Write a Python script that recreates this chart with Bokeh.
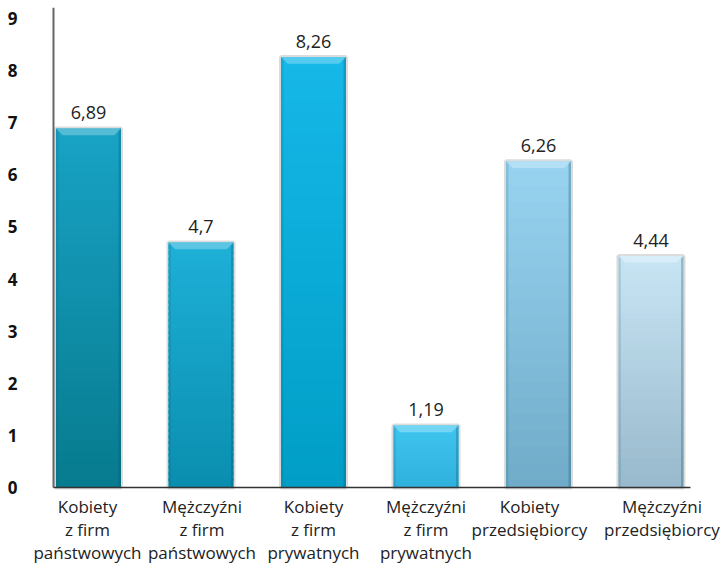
from bokeh.plotting import figure
from bokeh.models import Range1d, FixedTicker, ColumnDataSource
from bokeh.core.properties import value
from bokeh.embed import file_html
from bokeh.resources import INLINE

# ---- data ----
categories = [
    "Kobiety\nz firm\npaństwowych",
    "Mężczyźni\nz firm\npaństwowych",
    "Kobiety\nz firm\nprywatnych",
    "Mężczyźni\nz firm\nprywatnych",
    "Kobiety\nprzedsiębiorcy",
    "Mężczyźni\nprzedsiębiorcy",
]
values = [6.89, 4.7, 8.26, 1.19, 6.26, 4.44]
value_labels = ["6,89", "4,7", "8,26", "1,19", "6,26", "4,44"]
y_ticks = [0, 1, 2, 3, 4, 5, 6, 7, 8, 9]
y_tick_labels = ["0", "1", "2", "3", "4", "5", "6", "7", "8", "9"]

# ---- styles ----
top_colors = ["#18a3c5", "#1eb0d8", "#16b8e8", "#40c5ef", "#98d4f1", "#c8e5f4"]
bottom_colors = ["#077a8e", "#0a8eae", "#009ec6", "#2fb1dd", "#70abc8", "#98b9cc"]
label_x_shift = [-1, 1, 0, 0, -9, 11]
BAR_W = 0.578
N_BANDS = 40
FONT = "Open Sans"
X0, X1 = -0.5332, 5.6535
AXIS_X, AXIS_END = -0.311, 5.351
Y_TOP = 9.21


def hex2rgb(h):
    h = h.lstrip("#")
    return tuple(int(h[i:i + 2], 16) for i in (0, 2, 4))


def mix(c1, c2, t):
    a, b = hex2rgb(c1), hex2rgb(c2)
    return "#%02x%02x%02x" % tuple(round(a[k] + (b[k] - a[k]) * t) for k in range(3))


xs = list(range(len(values)))

p = figure(
    width=724, height=564,
    x_range=Range1d(X0, X1), y_range=Range1d(-1.478, Y_TOP),
    output_backend="svg", toolbar_location=None,
    min_border_left=28, min_border_right=0, min_border_top=7, min_border_bottom=0,
)
p.outline_line_color = None
p.xgrid.visible = False
p.ygrid.visible = False
p.xaxis.visible = False
p.background_fill_color = "white"
p.border_fill_color = "white"

# shadow around bars
p.quad(left=[x - BAR_W / 2 for x in xs], right=[x + BAR_W / 2 for x in xs],
       bottom=[0] * len(xs), top=values, fill_color=None,
       line_color="#8a8a8a", line_alpha=0.3, line_width=4)

# gradient bands (each overlaps the next one to hide seams)
band = dict(left=[], right=[], bottom=[], top=[], color=[])
for i, v in enumerate(values):
    for k in range(N_BANDS):
        band["left"].append(xs[i] - BAR_W / 2)
        band["right"].append(xs[i] + BAR_W / 2)
        band["bottom"].append(v * k / N_BANDS)
        band["top"].append(v * min(k + 1.6, N_BANDS) / N_BANDS)
        band["color"].append(mix(bottom_colors[i], top_colors[i], (k + 0.5) / N_BANDS))
p.quad(left="left", right="right", bottom="bottom", top="top",
       fill_color="color", line_color=None, source=ColumnDataSource(band))

# darker side edges
edge_w = 0.022
p.quad(left=[x - BAR_W / 2 for x in xs], right=[x - BAR_W / 2 + edge_w for x in xs],
       bottom=[0] * len(xs), top=values, fill_color="#0b4f60", fill_alpha=0.15, line_color=None)
p.quad(left=[x + BAR_W / 2 - edge_w for x in xs], right=[x + BAR_W / 2 for x in xs],
       bottom=[0] * len(xs), top=values, fill_color="#0b4f60", fill_alpha=0.28, line_color=None)

# top bevel highlight
bev_h, bev_d = 0.13, 0.06
p.patches(
    xs=[[x - BAR_W / 2, x + BAR_W / 2, x + BAR_W / 2 - bev_d, x - BAR_W / 2 + bev_d] for x in xs],
    ys=[[v, v, v - bev_h, v - bev_h] for v in values],
    fill_color=[mix(c, "#ffffff", 0.3) for c in top_colors], line_color=None, fill_alpha=0.9)

# value labels
p.text(x=xs, y=values, text=value_labels, text_align="center", text_baseline="alphabetic",
       y_offset=-16, text_font=value(FONT), text_font_size="18px", text_color="#222222")

# axis lines (value axis and baseline)
p.segment(x0=[AXIS_X], y0=[0], x1=[AXIS_X], y1=[Y_TOP], line_color="#666666", line_width=2)
p.segment(x0=[AXIS_X], y0=[0], x1=[AXIS_END], y1=[0], line_color="#333333", line_width=1.5)

# y axis tick labels
p.yaxis.ticker = FixedTicker(ticks=y_ticks)
p.yaxis.major_label_overrides = {t: l for t, l in zip(y_ticks, y_tick_labels)}
p.yaxis.major_label_text_font = FONT
p.yaxis.major_label_text_font_style = "bold"
p.yaxis.major_label_text_font_size = "17px"
p.yaxis.major_label_text_color = "#111111"
p.yaxis.major_label_standoff = 5
p.yaxis.major_tick_line_color = None
p.yaxis.minor_tick_line_color = None
p.yaxis.axis_line_color = None

# category labels below the baseline
p.text(x=xs, y=[0] * len(xs), text=categories, x_offset=label_x_shift, y_offset=8,
       text_align="center", text_baseline="top", text_font=value(FONT),
       text_font_size="17px", text_color="#222222", text_line_height=1.0)

open("out.html", "w").write(file_html(p, INLINE))
